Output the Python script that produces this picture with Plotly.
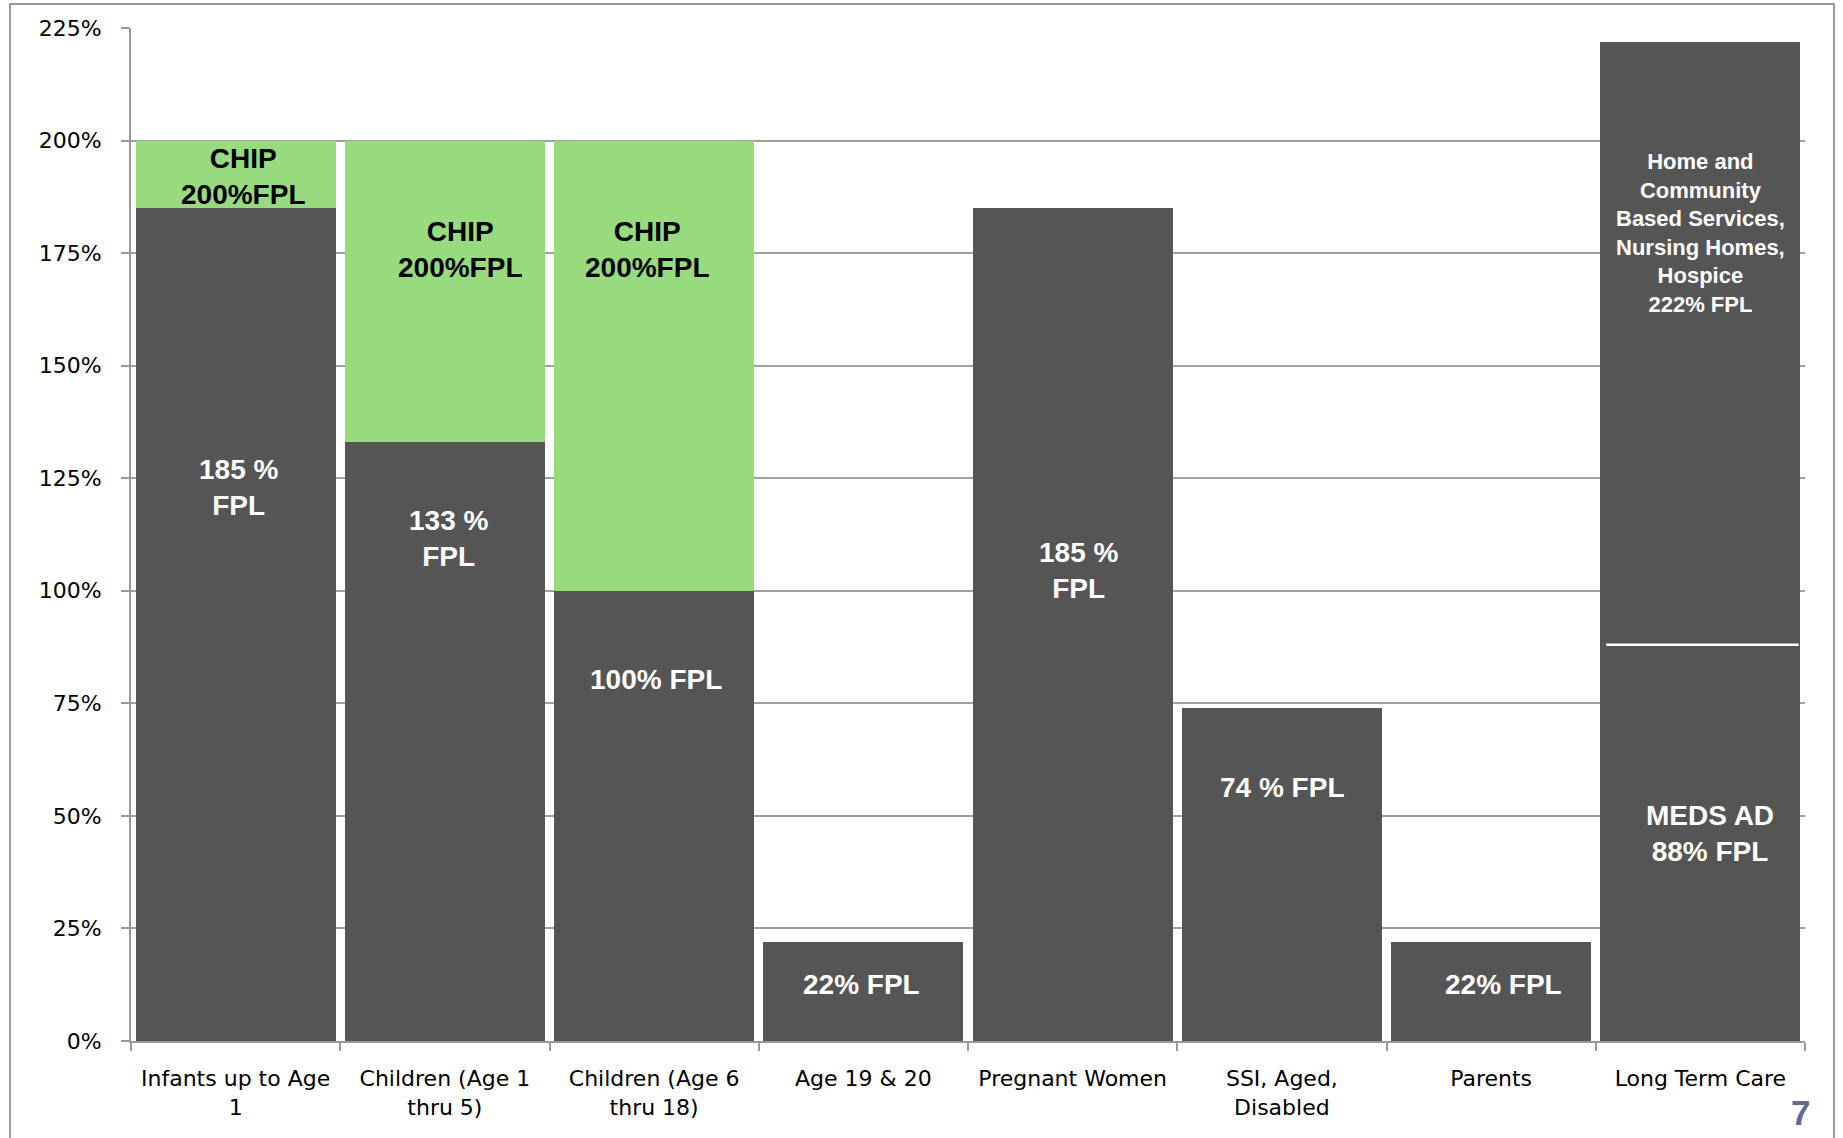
import plotly.graph_objects as go

categories = [
    "Infants up to Age<br>1",
    "Children (Age 1<br>thru 5)",
    "Children (Age 6<br>thru 18)",
    "Age 19 & 20",
    "Pregnant Women",
    "SSI, Aged,<br>Disabled",
    "Parents",
    "Long Term Care",
]
medicaid_fpl = [185, 133, 100, 22, 185, 74, 22, 88]
chip_fpl = [200, 200, 200, None, None, None, None, None]
ltc_upper_fpl = [None, None, None, None, None, None, None, 222]
y_ticks = [0, 25, 50, 75, 100, 125, 150, 175, 200, 225]
y_tick_text = [f"{v}%" for v in y_ticks]

DARK = "#555555"
GREEN = "#97DB7E"
FONT = "Liberation Sans, Arial, sans-serif"
AXFONT = "DejaVu Sans, Liberation Sans, Arial, sans-serif"

chip_extra = [(c - m) if c is not None else 0 for c, m in zip(chip_fpl, medicaid_fpl)]
ltc_extra = [(u - m) if u is not None else 0 for u, m in zip(ltc_upper_fpl, medicaid_fpl)]

fig = go.Figure()
fig.add_bar(x=categories, y=medicaid_fpl, marker=dict(color=DARK, line=dict(width=0)),
            hoverinfo="skip", name="Medicaid")
fig.add_bar(x=categories, y=chip_extra, marker=dict(color=GREEN, line=dict(width=0)),
            hoverinfo="skip", name="CHIP")
fig.add_bar(x=categories, y=ltc_extra, marker=dict(color=DARK, line=dict(width=0)),
            hoverinfo="skip", name="LTC")

# white divider inside the Long Term Care bar at the MEDS AD level
fig.add_shape(type="line", xref="x", yref="y",
              x0=7 - 0.45, x1=7 + 0.47, y0=medicaid_fpl[7], y1=medicaid_fpl[7],
              line=dict(color="white", width=2.5), layer="above")

labels = [
    (0, 192, "CHIP<br>200%FPL", "black", 28, 8),
    (0, 123, "185 %<br>FPL", "white", 28, 3),
    (1, 175.7, "CHIP<br>200%FPL", "black", 28, 16),
    (1, 111.7, "133 %<br>FPL", "white", 28, 4),
    (2, 175.7, "CHIP<br>200%FPL", "black", 28, -7),
    (2, 80.2, "100% FPL", "white", 28, 2),
    (3, 12.5, "22% FPL", "white", 28, -2),
    (4, 104.6, "185 %<br>FPL", "white", 28, 6),
    (5, 56.2, "74 % FPL", "white", 28, 0),
    (6, 12.5, "22% FPL", "white", 28, 12),
    (7, 179.4, "Home and<br>Community<br>Based Services,<br>Nursing Homes,<br>Hospice<br>222% FPL", "white", 22, 0),
    (7, 46, "MEDS AD<br>88% FPL", "white", 28, 10),
]
for idx, yv, txt, col, sz, xs in labels:
    fig.add_annotation(x=categories[idx], y=yv, xref="x", yref="y", text=f"<b>{txt}</b>",
                       showarrow=False, xshift=xs,
                       font=dict(family=FONT, size=sz, color=col))

# slide number
fig.add_annotation(x=1.0, y=-0.0701, xref="paper", yref="paper", text="<b>7</b>",
                   showarrow=False, xanchor="right", yanchor="middle", xshift=7,
                   font=dict(family=FONT, size=35, color="#5B6A96"))

# outer slide frame
fig.add_shape(type="rect", xref="paper", yref="paper",
              x0=-0.0723, x1=1.0173, y0=-0.2, y1=1.0237,
              line=dict(color="#9a9a9a", width=2), fillcolor="rgba(0,0,0,0)", layer="below")

fig.update_layout(
    width=1843, height=1138,
    margin=dict(l=131, r=38, t=28, b=97),
    barmode="stack", bargap=0.044,
    showlegend=False,
    plot_bgcolor="white", paper_bgcolor="white",
    font=dict(family=FONT, color="black"),
)
fig.update_xaxes(
    showline=True, linecolor="#999999", linewidth=2,
    ticks="outside", tickson="boundaries", ticklen=8, tickcolor="#999999", tickwidth=2,
    tickfont=dict(family=AXFONT, size=22, color="black"),
    ticklabelstandoff=17,
    showgrid=False,
)
fig.update_yaxes(
    range=[0, 225], tickvals=y_ticks, ticktext=y_tick_text,
    showline=True, linecolor="#999999", linewidth=2,
    ticks="outside", ticklen=8, tickcolor="#999999", tickwidth=2,
    showgrid=True, gridcolor="#a0a0a0", gridwidth=1.5,
    zeroline=False,
    tickfont=dict(family=AXFONT, size=22, color="black"),
    ticklabelstandoff=15,
)

fig.write_html("out.html", config={"displayModeBar": False},
               post_script="document.body.style.margin='0';")
